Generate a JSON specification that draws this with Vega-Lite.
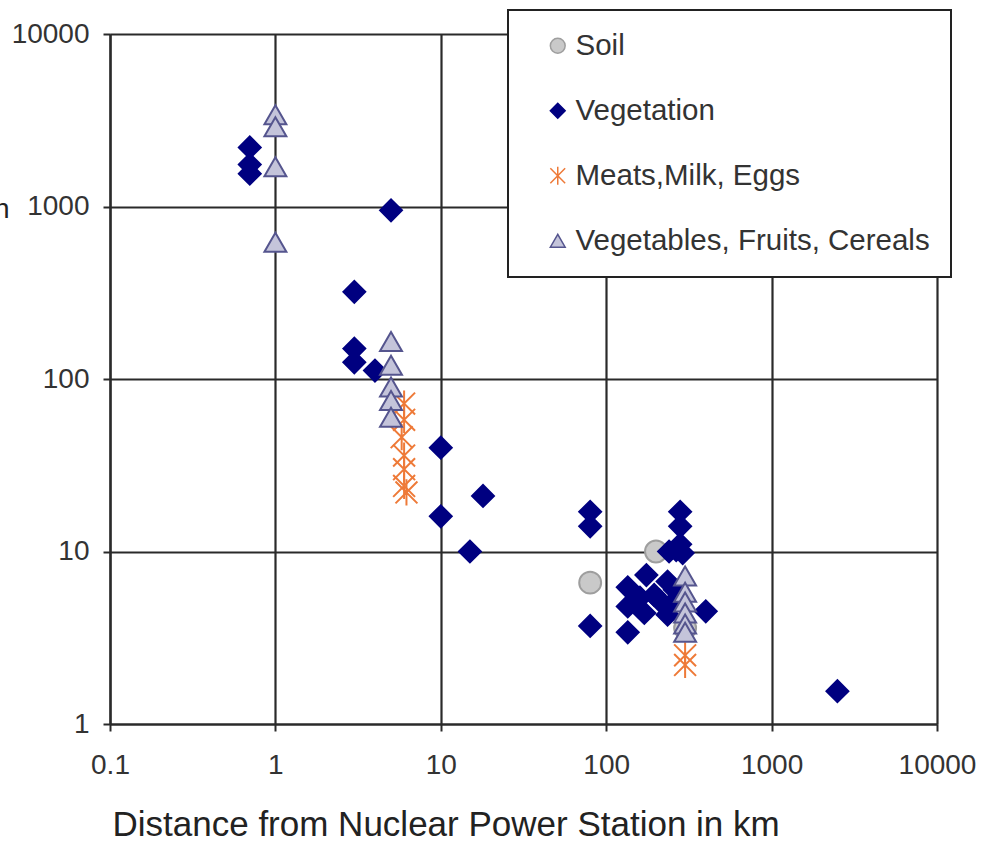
{
  "$schema": "https://vega.github.io/schema/vega-lite/v6.json",
  "autosize": {"type": "none"},
  "width": 827,
  "height": 690,
  "padding": {"left": 110, "top": 34, "right": 56, "bottom": 121},
  "background": "white",
  "data": {"values": [
    {"type": "Soil", "d": 80, "c": 6.6},
    {"type": "Soil", "d": 200, "c": 10},
    {"type": "Soil", "d": 300, "c": 3.6},
    {"type": "Vegetation", "d": 0.7, "c": 2200},
    {"type": "Vegetation", "d": 0.7, "c": 1750},
    {"type": "Vegetation", "d": 0.7, "c": 1550},
    {"type": "Vegetation", "d": 5, "c": 950},
    {"type": "Vegetation", "d": 3, "c": 320},
    {"type": "Vegetation", "d": 3, "c": 150},
    {"type": "Vegetation", "d": 3, "c": 125},
    {"type": "Vegetation", "d": 4, "c": 112},
    {"type": "Vegetation", "d": 10, "c": 40},
    {"type": "Vegetation", "d": 10, "c": 16},
    {"type": "Vegetation", "d": 18, "c": 21},
    {"type": "Vegetation", "d": 15, "c": 10},
    {"type": "Vegetation", "d": 80, "c": 17},
    {"type": "Vegetation", "d": 80, "c": 14},
    {"type": "Vegetation", "d": 80, "c": 3.7},
    {"type": "Vegetation", "d": 135, "c": 6.2},
    {"type": "Vegetation", "d": 135, "c": 4.8},
    {"type": "Vegetation", "d": 135, "c": 3.4},
    {"type": "Vegetation", "d": 175, "c": 7.3},
    {"type": "Vegetation", "d": 170, "c": 4.4},
    {"type": "Vegetation", "d": 160, "c": 5.4},
    {"type": "Vegetation", "d": 195, "c": 5.6},
    {"type": "Vegetation", "d": 210, "c": 5.2},
    {"type": "Vegetation", "d": 235, "c": 6.7},
    {"type": "Vegetation", "d": 235, "c": 4.3},
    {"type": "Vegetation", "d": 250, "c": 5.0},
    {"type": "Vegetation", "d": 260, "c": 6.0},
    {"type": "Vegetation", "d": 240, "c": 10},
    {"type": "Vegetation", "d": 265, "c": 10.2},
    {"type": "Vegetation", "d": 290, "c": 9.8},
    {"type": "Vegetation", "d": 280, "c": 17},
    {"type": "Vegetation", "d": 280, "c": 14},
    {"type": "Vegetation", "d": 280, "c": 11},
    {"type": "Vegetation", "d": 400, "c": 4.5},
    {"type": "Vegetation", "d": 2500, "c": 1.55},
    {"type": "Meats,Milk, Eggs", "d": 6, "c": 72},
    {"type": "Meats,Milk, Eggs", "d": 6, "c": 58},
    {"type": "Meats,Milk, Eggs", "d": 5.8, "c": 46},
    {"type": "Meats,Milk, Eggs", "d": 6, "c": 36},
    {"type": "Meats,Milk, Eggs", "d": 6, "c": 30},
    {"type": "Meats,Milk, Eggs", "d": 6, "c": 24},
    {"type": "Meats,Milk, Eggs", "d": 6.2, "c": 22},
    {"type": "Meats,Milk, Eggs", "d": 300, "c": 2.5},
    {"type": "Meats,Milk, Eggs", "d": 300, "c": 2.2},
    {"type": "Vegetables, Fruits, Cereals", "d": 1, "c": 3400},
    {"type": "Vegetables, Fruits, Cereals", "d": 1, "c": 2900},
    {"type": "Vegetables, Fruits, Cereals", "d": 1, "c": 1700},
    {"type": "Vegetables, Fruits, Cereals", "d": 1, "c": 620},
    {"type": "Vegetables, Fruits, Cereals", "d": 5, "c": 165},
    {"type": "Vegetables, Fruits, Cereals", "d": 5, "c": 120},
    {"type": "Vegetables, Fruits, Cereals", "d": 5, "c": 90},
    {"type": "Vegetables, Fruits, Cereals", "d": 5, "c": 75},
    {"type": "Vegetables, Fruits, Cereals", "d": 5, "c": 60},
    {"type": "Vegetables, Fruits, Cereals", "d": 300, "c": 7.2},
    {"type": "Vegetables, Fruits, Cereals", "d": 300, "c": 5.8},
    {"type": "Vegetables, Fruits, Cereals", "d": 300, "c": 5.1},
    {"type": "Vegetables, Fruits, Cereals", "d": 300, "c": 4.4},
    {"type": "Vegetables, Fruits, Cereals", "d": 300, "c": 3.8},
    {"type": "Vegetables, Fruits, Cereals", "d": 300, "c": 3.4}
  ]},
  "mark": {"type": "point", "filled": false, "strokeWidth": 2, "opacity": 1, "size": 480},
  "encoding": {
    "x": {
      "field": "d", "type": "quantitative",
      "scale": {"type": "log", "domain": [0.1, 10000], "nice": false},
      "axis": {
        "values": [0.1, 1, 10, 100, 1000, 10000],
        "format": "~g",
        "labelFlush": false,
        "title": "Distance from Nuclear Power Station in km",
        "titleAnchor": "start",
        "titleX": 2,
        "titleY": 111,
        "titleBaseline": "alphabetic",
        "titleFontSize": 35,
        "labelPadding": 20
      }
    },
    "y": {
      "field": "c", "type": "quantitative",
      "scale": {"type": "log", "domain": [1, 10000], "nice": false},
      "axis": {
        "values": [1, 10, 100, 1000, 10000],
        "format": "~g",
        "labelFlush": false,
        "title": "Concentration",
        "titleAngle": 0,
        "titleAlign": "right",
        "titleBaseline": "alphabetic",
        "titleX": -101,
        "titleY": 183,
        "titleFontSize": 28,
        "labelPadding": 14
      }
    },
    "shape": {
      "field": "type", "type": "nominal",
      "scale": {
        "domain": ["Soil", "Vegetation", "Meats,Milk, Eggs", "Vegetables, Fruits, Cereals"],
        "range": ["circle", "diamond", "M-1,-1L1,1M-1,1L1,-1M0,-1.2L0,1.2", "triangle-up"]
      }
    },
    "fill": {
      "field": "type", "type": "nominal",
      "scale": {
        "domain": ["Soil", "Vegetation", "Meats,Milk, Eggs", "Vegetables, Fruits, Cereals"],
        "range": ["#C9C9C9", "#000080", "transparent", "#C4C4DA"]
      }
    },
    "stroke": {
      "field": "type", "type": "nominal",
      "scale": {
        "domain": ["Soil", "Vegetation", "Meats,Milk, Eggs", "Vegetables, Fruits, Cereals"],
        "range": ["#9E9E9E", "#000080", "#EE7A38", "#55558E"]
      }
    }
  },
  "config": {
    "font": "Liberation Sans",
    "view": {"stroke": null},
    "axis": {
      "grid": true,
      "gridColor": "#2a2a2a",
      "gridWidth": 2.2,
      "gridOpacity": 1,
      "domainColor": "#2a2a2a",
      "domainWidth": 2.2,
      "tickColor": "#2a2a2a",
      "tickWidth": 2,
      "tickSize": 7,
      "labelFontSize": 28,
      "labelColor": "#333333",
      "labelFont": "Liberation Sans",
      "titleColor": "#222222",
      "titleFontWeight": "normal",
      "titleFont": "Liberation Sans"
    },
    "legend": {
      "orient": "none",
      "legendX": 398,
      "legendY": -24,
      "title": null,
      "padding": 21,
      "symbolOffset": 14,
      "fillColor": "white",
      "strokeColor": "#222222",
      "strokeWidth": 2,
      "labelFontSize": 29.5,
      "labelColor": "#333333",
      "labelFont": "Liberation Sans",
      "labelOffset": 3,
      "labelLimit": 600,
      "rowPadding": 34,
      "symbolSize": 220,
      "symbolStrokeWidth": 1.5
    }
  }
}
